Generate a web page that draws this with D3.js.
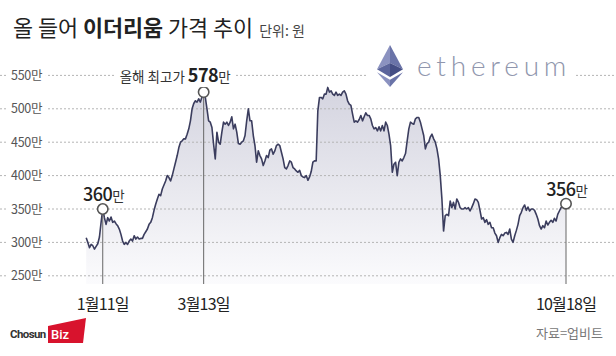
<!DOCTYPE html>
<html><head><meta charset="utf-8">
<script src="https://cdn.jsdelivr.net/npm/d3@7"></script>
<style>body{margin:0;background:#fff}svg{display:block}</style>
</head><body><svg id="c" width="616" height="356"></svg>
<script>
// ---------- DATA ----------
const startDate = new Date(2021, 0, 1);
// daily price (unit: 만원), Jan 1 .. Oct 18
const prices = [
307,300,292,297,295,290,294,298,308,330,
350,337,327,337,332,338,330,332,328,325,
320,312,302,297,300,297,302,305,302,310,
305,308,305,306,306,312,316,320,327,330,
337,348,357,365,372,370,380,386,392,400,
397,392,400,410,420,430,442,450,452,455,
455,462,470,482,500,508,512,510,515,510,
518,525,517,500,482,480,472,447,425,465,
450,447,465,480,477,480,475,480,488,470,
477,465,448,447,450,452,460,482,500,482,
482,460,445,420,437,430,425,415,422,430,
427,438,440,432,437,445,447,445,435,425,
412,410,415,422,420,412,410,407,405,408,
400,398,397,400,393,398,406,420,422,422,
497,517,517,515,522,522,532,525,527,522,
520,525,520,522,520,525,527,522,512,507,
505,492,480,482,480,484,490,482,488,494,
490,490,485,475,470,472,467,473,467,475,
467,480,475,462,445,405,417,420,400,420,
425,422,427,433,452,470,480,478,477,485,
487,487,480,470,460,440,448,450,458,462,
455,450,440,425,400,365,317,340,342,340,
362,352,360,350,365,360,352,350,350,352,
350,352,347,352,358,365,364,360,348,335,
337,330,334,327,330,322,322,314,310,300,
307,312,310,314,315,312,320,305,300,310,
318,327,340,345,352,356,348,353,347,350,
350,348,342,335,325,320,325,322,332,326,
330,333,330,336,332,342,347,352,355,355,
358
];
const yTicks = [250, 300, 350, 400, 450, 500, 550];
const yTickLabels = ["250만", "300만", "350만", "400만", "450만", "500만", "550만"];
const annoDays = [10, 71, 290];
const annoDateLabels = ["1월11일", "3월13일", "10월18일"];
const annoPrefix = ["", "올해 최고가 ", ""];
const annoNumbers = ["360", "578", "356"];
const annoUnit = "만";
const titleMain = ["올 들어 ", "이더리움", " 가격 추이"];
const titleUnit = "단위: 원";
const sourceText = "자료=업비트";

// ---------- SETUP ----------
const KR = "'Noto Sans CJK KR', 'Noto Sans', sans-serif";
const svg = d3.select("#c");
const W = 616, H = 356;
const data = prices.map((v, i) => ({ date: d3.timeDay.offset(startDate, i), value: v }));

const x = d3.scaleTime()
  .domain([startDate, d3.timeDay.offset(startDate, prices.length - 1)])
  .range([86.2, 566]);
const y = d3.scaleLinear().domain([250, 550]).range([275.8, 75.4]);
const baseY = 284;

// gradient
const defs = svg.append("defs");
const grad = defs.append("linearGradient").attr("id", "ag")
  .attr("gradientUnits", "userSpaceOnUse").attr("x1", 0).attr("x2", 0)
  .attr("y1", y(540)).attr("y2", baseY);
grad.append("stop").attr("offset", 0).attr("stop-color", "#d3d3df");
grad.append("stop").attr("offset", 0.55).attr("stop-color", "#e9e9ef");
grad.append("stop").attr("offset", 1).attr("stop-color", "#fbfbfd");

// area
svg.append("path").datum(data)
  .attr("fill", "url(#ag)")
  .attr("d", d3.area().x(d => x(d.date)).y0(baseY).y1(d => y(d.value)));

// gridlines
svg.append("g").selectAll("line").data(yTicks).join("line")
  .attr("x1", 0).attr("x2", W)
  .attr("y1", d => y(d)).attr("y2", d => y(d))
  .attr("stroke", "#b4b4b4").attr("stroke-width", 1)
  .attr("stroke-dasharray", "2,2");

// y labels with white background
const yl = svg.append("g");
yTicks.forEach((t, i) => {
  const g = yl.append("g");
  const txt = g.append("text").attr("x", 11).attr("y", y(t)).attr("dy", "0.36em")
    .attr("font-family", KR).attr("font-size", 12.5).attr("fill", "#555")
    .attr("letter-spacing", -0.3)
    .text(yTickLabels[i]);
  const b = txt.node().getBBox();
  g.insert("rect", "text").attr("x", b.x - 3).attr("y", b.y)
    .attr("width", b.width + 6).attr("height", b.height).attr("fill", "#fff");
});

// ethereum logo (white backing over grid)
const logo = svg.append("g");
logo.append("rect").attr("x", 368).attr("y", 40).attr("width", 206).attr("height", 48).attr("fill", "#fff");
const lx = 390, ly = 45, lw = 26, lh = 42;
const P = (pts) => pts.map(p => [lx + p[0] * lw / 2, ly + p[1] * lh].join(",")).join(" ");
logo.append("polygon").attr("points", P([[0,0],[-1,0.58],[0,0.43]])).attr("fill", "#8b92c0");
logo.append("polygon").attr("points", P([[0,0],[1,0.58],[0,0.43]])).attr("fill", "#6a73a8");
logo.append("polygon").attr("points", P([[-1,0.58],[0,0.43],[0,0.76]])).attr("fill", "#5c659c");
logo.append("polygon").attr("points", P([[1,0.58],[0,0.43],[0,0.76]])).attr("fill", "#454e85");
logo.append("polygon").attr("points", P([[-1,0.65],[0,0.83],[0,1]])).attr("fill", "#8b92c0");
logo.append("polygon").attr("points", P([[1,0.65],[0,0.83],[0,1]])).attr("fill", "#6a73a8");
logo.append("text").attr("x", 417).attr("y", 76)
  .attr("font-family", "Lato, 'Open Sans', sans-serif").attr("font-weight", 300)
  .attr("font-size", 28).attr("letter-spacing", 4.8).attr("fill", "#9096ad")
  .text("ethereum");

// line
svg.append("path").datum(data)
  .attr("fill", "none").attr("stroke", "#3b3d5e").attr("stroke-width", 1.6)
  .attr("stroke-linejoin", "round")
  .attr("d", d3.line().x(d => x(d.date)).y(d => y(d.value)));

// annotations
annoDays.forEach((di, i) => {
  const d = data[di];
  const cx = x(d.date), cy = y(d.value);
  svg.append("line").attr("x1", cx).attr("x2", cx).attr("y1", cy + 5).attr("y2", baseY)
    .attr("stroke", "#666").attr("stroke-width", 1);
  svg.append("circle").attr("cx", cx).attr("cy", cy).attr("r", 5.2)
    .attr("fill", "#fff").attr("stroke", "#555").attr("stroke-width", 1.6);
  svg.append("text").attr("x", cx).attr("y", 310).attr("text-anchor", "middle")
    .attr("font-family", KR).attr("font-size", 16).attr("letter-spacing", -0.8)
    .attr("fill", "#222").text(annoDateLabels[i]);
  const g = svg.append("g");
  const t = g.append("text").attr("font-family", KR).attr("fill", "#222");
  if (annoPrefix[i]) {
    t.append("tspan").attr("font-size", 13.5).attr("fill", "#333").text(annoPrefix[i]);
    t.append("tspan").attr("font-size", 18).attr("font-weight", 700).attr("letter-spacing", -0.5).text(annoNumbers[i]);
  } else {
    t.append("tspan").attr("font-size", 18).attr("font-weight", 500).attr("letter-spacing", -0.5).text(annoNumbers[i]);
  }
  t.append("tspan").attr("font-size", 13.5).attr("fill", "#333").text(annoUnit);
  if (annoPrefix[i]) {
    t.attr("text-anchor", "end").attr("x", cx + 27).attr("y", cy - 10);
    const b = t.node().getBBox();
    g.insert("rect", "text").attr("x", b.x - 5).attr("y", b.y).attr("width", b.width + 10)
      .attr("height", b.height).attr("fill", "#fff");
  } else {
    t.attr("text-anchor", "middle").attr("x", cx + 1).attr("y", cy - 8);
  }
});

// title
const tt = svg.append("text").attr("x", 13).attr("y", 36)
  .attr("font-family", KR).attr("font-size", 21.8).attr("fill", "#222");
titleMain.forEach((s, i) => tt.append("tspan").attr("font-weight", i === 1 ? 700 : 400).text(s));
tt.append("tspan").attr("font-size", 14).attr("fill", "#444").attr("dx", 6).text(titleUnit);

// footer: ChosunBiz logo + source
svg.append("text").attr("x", 10).attr("y", 338)
  .attr("font-family", "Roboto, sans-serif").attr("font-weight", 700)
  .attr("font-size", 11.5).attr("letter-spacing", -0.6).attr("fill", "#333").text("Chosun");
svg.append("polygon").attr("points", "48,326 86,318 83,343 48,343").attr("fill", "#d8132d");
svg.append("text").attr("x", 51).attr("y", 339)
  .attr("font-family", "Roboto, sans-serif").attr("font-weight", 500)
  .attr("font-size", 13).attr("fill", "#fff").text("Biz");
svg.append("text").attr("x", 603).attr("y", 338).attr("text-anchor", "end")
  .attr("font-family", KR).attr("font-size", 13).attr("fill", "#777").text(sourceText);
</script></body></html>
